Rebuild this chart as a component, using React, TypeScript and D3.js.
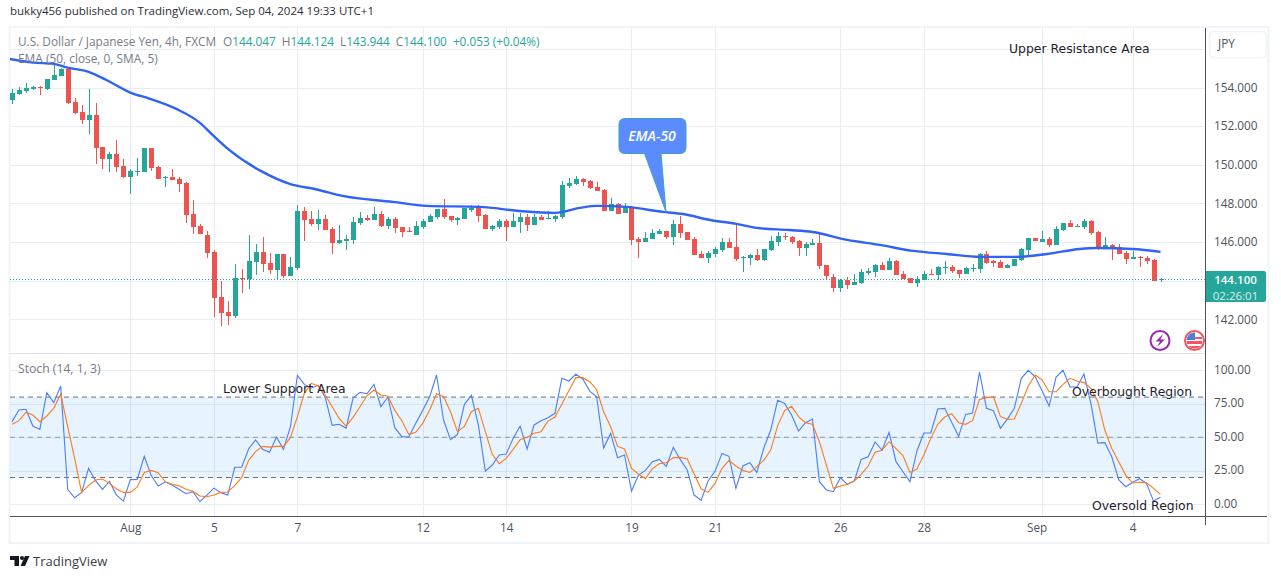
import React, { useEffect, useRef } from 'react'
import * as d3 from 'd3'

const opens = [
  153.36,153.67,153.83,153.93,154.05,153.93,154.39,154.60,154.97,153.26,
  152.74,152.32,152.58,150.93,150.30,150.56,149.94,149.37,149.63,149.63,
  150.87,149.89,149.33,149.37,149.27,149.06,147.45,146.83,146.37,145.49,
  143.15,142.38,142.17,144.14,144.09,144.97,145.49,144.92,144.55,145.38,
  144.24,144.66,147.61,147.20,146.94,147.20,146.68,145.95,146.06,146.11,
  146.99,147.25,147.14,147.45,146.83,147.20,146.78,146.57,146.37,146.78,
  147.04,147.30,147.71,147.35,147.14,147.20,147.66,147.82,147.40,146.68,
  146.78,147.09,146.78,147.04,147.30,146.88,147.30,147.20,147.20,147.30,
  148.90,149.01,149.27,149.16,148.85,148.70,147.61,147.97,147.51,147.82,
  146.16,146.00,146.16,146.42,146.57,146.26,146.94,146.52,146.16,145.38,
  145.18,145.38,145.59,146.00,145.75,145.18,145.18,145.33,145.07,145.59,
  146.00,146.31,146.26,146.06,145.69,145.85,145.95,144.81,144.19,143.62,
  144.03,143.78,143.88,144.40,144.45,144.81,144.55,145.02,144.35,144.14,
  143.88,144.03,144.35,144.30,144.66,144.71,144.55,144.35,144.61,144.61,
  145.38,145.02,144.97,144.66,144.76,145.07,145.59,146.21,146.00,146.16,
  145.85,146.62,146.99,146.78,146.78,147.09,146.52,145.75,145.85,145.75,
  145.43,145.12,145.23,145.18,145.07,144.047,
]
const highs = [
  153.91,154.02,154.22,154.08,154.08,154.45,155.21,155.00,155.00,153.46,
  153.09,153.93,153.20,150.93,150.67,151.29,150.30,149.79,150.37,150.87,
  150.87,149.94,149.42,149.79,149.37,149.11,148.18,146.94,146.57,145.59,
  143.98,142.95,144.86,144.61,146.37,145.90,146.26,145.43,145.38,145.38,
  145.23,147.92,147.82,147.61,147.66,147.40,146.78,146.88,146.37,147.30,
  147.56,147.40,147.82,147.61,147.30,147.30,146.78,146.78,147.09,147.20,
  147.45,147.71,148.23,147.35,147.30,147.77,147.92,147.92,147.45,146.88,
  147.20,147.20,147.51,147.51,147.45,147.45,147.40,147.61,147.40,149.16,
  149.32,149.42,149.32,149.22,149.11,148.75,148.28,148.02,148.02,147.87,
  146.26,146.52,146.68,146.68,146.57,147.14,147.35,146.52,146.26,145.54,
  145.54,145.75,146.21,146.21,146.88,145.28,145.38,145.64,145.64,146.31,
  146.52,146.47,146.31,146.11,146.00,146.16,146.52,144.81,144.35,144.09,
  144.19,144.35,144.61,144.66,144.86,144.97,145.18,145.07,144.50,144.14,
  144.24,144.50,144.61,144.76,145.02,144.81,144.55,144.71,144.86,145.43,
  145.54,145.07,145.07,144.86,145.12,145.69,146.21,146.21,146.57,146.26,
  146.83,146.99,147.14,146.94,147.20,147.14,146.57,146.26,145.90,145.90,
  145.54,145.54,145.28,145.28,145.12,144.124,
]
const lows = [
  153.15,153.62,153.71,153.87,153.61,153.87,154.39,154.60,153.15,152.63,
  152.12,151.60,150.04,149.79,149.63,149.63,149.32,148.51,149.44,149.63,
  149.68,149.27,148.85,149.22,148.59,146.99,146.42,146.42,145.17,142.12,
  141.65,141.70,142.07,143.36,143.57,144.29,144.45,144.35,144.03,144.14,
  144.24,144.55,146.06,146.83,146.63,146.63,145.38,145.90,145.59,145.90,
  146.88,147.09,147.14,146.78,146.68,146.47,146.26,146.52,146.37,146.68,
  147.04,147.20,147.20,147.04,146.88,147.20,147.56,147.04,146.68,146.57,
  146.68,146.06,146.78,146.47,146.57,146.88,147.14,147.20,147.04,147.20,
  148.80,148.96,148.90,148.75,148.65,147.61,147.61,147.45,147.51,145.85,
  145.18,146.00,146.16,146.42,146.16,145.85,146.21,146.11,145.33,145.18,
  144.92,145.23,145.49,145.69,145.02,144.45,144.81,145.02,145.02,145.54,
  145.80,146.11,145.90,145.28,145.28,145.85,144.61,144.09,143.41,143.41,
  143.57,143.78,143.83,144.29,144.19,144.55,144.55,144.29,144.09,143.88,
  143.67,144.03,144.30,144.03,144.35,144.40,144.14,144.35,144.45,144.40,
  144.86,144.71,144.66,144.66,144.76,145.02,145.33,146.06,146.00,145.75,
  145.85,146.57,146.78,146.78,146.68,146.37,145.59,145.75,145.07,145.38,
  144.86,145.12,144.71,144.86,143.98,143.944,
]
const closes = [
  153.71,153.86,153.98,154.03,154.02,154.45,154.64,154.97,153.19,152.69,
  152.32,152.58,150.89,150.30,150.56,149.89,149.37,149.68,149.68,150.87,
  149.84,149.27,149.37,149.22,149.01,147.40,146.78,146.42,145.43,143.10,
  142.33,142.17,144.14,144.07,145.02,145.49,144.86,144.55,145.38,144.24,
  144.71,147.61,147.14,146.94,147.20,146.63,145.95,146.11,146.16,147.04,
  147.25,147.14,147.45,146.83,147.20,146.73,146.52,146.52,146.83,147.09,
  147.35,147.71,147.30,147.14,147.25,147.77,147.77,147.35,146.68,146.83,
  147.09,146.78,147.09,147.30,146.88,147.30,147.14,147.25,147.35,148.95,
  149.06,149.27,149.11,148.80,148.65,147.61,147.97,147.45,147.82,146.11,
  146.00,146.21,146.47,146.57,146.26,146.94,146.47,146.11,145.33,145.18,
  145.43,145.64,146.00,145.69,145.12,145.23,145.33,145.07,145.64,146.06,
  146.31,146.29,146.00,145.69,145.90,145.95,144.76,144.24,143.62,144.03,
  143.78,143.93,144.45,144.50,144.81,144.55,145.02,144.29,144.09,143.88,
  144.09,144.35,144.30,144.71,144.71,144.50,144.35,144.66,144.66,145.38,
  144.92,144.92,144.66,144.81,145.12,145.64,146.21,146.06,146.16,145.85,
  146.68,146.99,146.78,146.83,147.09,146.47,145.75,145.85,145.69,145.38,
  145.12,145.23,145.18,145.02,143.98,144.10,
]

// EMA read at the bars where the line visibly bends
const emaBars = [
  -0.4,3,6,8,11,13.5,17,19.7,23.6,27,28.8,31.2,36,39.9,43.8,47.5,54.7,59.6,67.2,72.9,78,
  81.6,84,88.3,93.5,96.4,100.3,104.1,107,111.7,115,120,124.7,129.5,134.3,139.1,143.9,148.7,
  153.4,155.9,161,165,
]
const emaValues = [
  155.48,155.29,155.22,155.03,154.81,154.40,153.74,153.43,152.89,152.17,151.55,150.77,149.63,
  149.01,148.72,148.39,148.08,147.87,147.82,147.61,147.51,147.77,147.87,147.82,147.56,147.45,
  147.14,146.94,146.73,146.62,146.52,146.11,145.85,145.54,145.38,145.23,145.23,145.38,145.64,
  145.69,145.64,145.49,
]

const stochK = [
  61.7,70.4,70.9,58.4,55.9,83.3,75.8,88.3,11.2,4.9,
  8.9,26.8,17.6,11.2,17.1,6.9,2.4,18.4,18.6,35.8,
  21.4,13.6,16.6,14.4,11.2,7.9,9.4,1.9,6.9,12.1,
  8.7,6.9,27.6,27.6,41.5,48,41,38.8,50.2,41,
  57.9,96.2,89.5,86.8,88.8,79.8,58.9,59.7,56.9,79.3,
  83.5,82.5,89.5,72.8,80.1,57.2,50.5,50.2,60.4,70,
  80.3,96.5,62.9,48.2,52.2,74.6,81.3,59.2,24.8,29.3,
  36.8,37.5,49.2,58.4,41.3,59.2,62.4,64.6,67.9,94,
  92,97,93.5,84.5,80.3,42,52.9,34.8,36.8,9.9,
  21.8,25.3,31.8,33.5,28.3,42.5,33.5,25.6,6.9,2.9,
  17.4,24.6,38,35.8,11.9,28.6,31,23.8,41.8,55.4,
  77.6,75.3,66.6,54.7,60.9,63.6,16.9,10.7,9.4,19.9,
  14.9,17.4,33.5,35.5,46.5,40.3,53.7,31.8,24.3,16.9,
  39.8,53.2,53.2,71.1,71.6,61.2,50.7,67.1,68.1,98.7,
  71.6,69.9,56.7,63.6,71.6,94,100,95.2,84.5,73.3,
  95,100,87.5,87.5,97.2,75.3,45.7,46,35.5,18.4,
  13.1,16.4,19.1,15.4,2.4,5.2,
]
const stochD = [
  59.7,62.4,68.6,66.6,61.6,65.9,71.6,82.3,57.9,34.3,
  8.9,13.9,18.1,18.9,15.6,11.4,8.9,8.9,12.9,23.8,
  25.3,23.6,16.9,14.9,13.9,11.2,9.7,6.2,5.7,6.9,
  8.9,9.2,13.9,20.1,32.8,39.3,43.2,42.7,43.2,43.2,
  49.7,65.4,82.8,90.3,88.3,81.6,72.8,64.1,58.4,64.9,
  72.8,81,85.3,81.6,80.6,70.1,62.4,52.2,53.7,60.4,
  70.4,82.5,80.3,69.1,54.2,58.2,69.1,71.6,54.2,37.3,
  30.3,34.3,41,48.2,50,53,54.2,62.1,65.1,74.8,
  84.8,94.5,94.5,91.5,85.5,69.1,57.9,43.2,41.3,26.8,
  22.6,19.1,26.6,30.3,31,34.8,35,34,22.6,11.6,
  8.9,15.6,26.8,32.8,28.6,25.3,23.8,28.1,32.8,40.5,
  58.7,69.9,73.1,65.4,60.9,59.7,46.7,29.3,11.9,13.4,
  14.9,17.4,22.3,28.6,38.8,40.3,46.7,41.5,36.3,23.8,
  26.3,36.8,49.2,59.7,65.1,67.6,60.9,59.7,62.4,78.3,
  79.6,80.3,65.6,63.4,63.6,75.3,88.3,96.5,92.7,84,
  84,89.5,94,92,90.8,86.5,76.6,55.4,41.7,31.8,
  21.8,15.9,16.4,16.1,11.9,7.4,
]

const priceTicks = [154, 152, 150, 148, 146, 144, 142]
const priceGrid = [156, 154, 152, 150, 148, 146, 144, 142]
const stochTicks = [100, 75, 50, 25, 0]
const stochLevels = [80, 50, 20]
const timeGridBars = [17, 29, 41, 59, 71, 89, 101, 119, 131, 148, 161]
const timeLabelBars = [17, 29, 41, 59, 71, 89, 101, 119, 131, 147.2, 161]
const timeLabels = ['Aug', '5', '7', '12', '14', '19', '21', '26', '28', 'Sep', '4']

const GREEN = '#26a69a'
const RED = '#ef5350'
const GRID = '#e6edf3'
const AXIS = '#50535e'
const LEGEND = '#787b86'
const FONT = '"Open Sans", Roboto, sans-serif'
const NOTE_FONT = '"DejaVu Sans", sans-serif'

const App = () => {
  const svgRef = useRef<SVGSVGElement>(null)

  useEffect(() => {
    const svg = d3.select(svgRef.current)
    svg.selectAll('*').remove()

    const left = 10
    const right = 1205
    const x = d3.scaleLinear().domain([0, 165]).range([12, 1160.5])
    const y = d3.scaleLinear().domain([142, 154]).range([319.3, 87.5])
    const yS = d3.scaleLinear().domain([0, 100]).range([504.3, 370.3])

    svg.append('rect').attr('width', 1281).attr('height', 579).attr('fill', '#fff')

    svg.append('text').attr('x', 10).attr('y', 15).attr('font-size', 11.5)
      .attr('fill', '#2a2e39').text('bukky456 published on TradingView.com, Sep 04, 2024 19:33 UTC+1')

    const defs = svg.append('defs')
    defs.append('clipPath').attr('id', 'main-clip').append('rect')
      .attr('x', left).attr('y', 28).attr('width', right - left).attr('height', 325)
    defs.append('clipPath').attr('id', 'stoch-clip').append('rect')
      .attr('x', left).attr('y', 354).attr('width', right - left).attr('height', 162)

    // Outer frame
    svg.append('rect').attr('x', 9.5).attr('y', 27).attr('width', 1259).attr('height', 516)
      .attr('fill', 'none').attr('stroke', '#f0f3fa').attr('stroke-width', 2)

    // Grid
    const grid = svg.append('g').attr('shape-rendering', 'crispEdges').attr('stroke', GRID)
    priceGrid.forEach(p => {
      grid.append('line').attr('x1', left).attr('x2', right).attr('y1', Math.round(y(p))).attr('y2', Math.round(y(p)))
    })
    stochTicks.forEach(v => {
      grid.append('line').attr('x1', left).attr('x2', right).attr('y1', Math.round(yS(v))).attr('y2', Math.round(yS(v)))
    })
    timeGridBars.forEach(b => {
      grid.append('line').attr('x1', Math.round(x(b))).attr('x2', Math.round(x(b))).attr('y1', 28).attr('y2', 516)
    })

    // Candles
    const candles = svg.append('g').attr('clip-path', 'url(#main-clip)').attr('shape-rendering', 'crispEdges')
    closes.forEach((c, i) => {
      const o = opens[i]
      const cx = Math.round(x(i))
      const color = c >= o ? GREEN : RED
      const top = Math.round(y(Math.max(o, c)))
      const bottom = Math.round(y(Math.min(o, c)))
      candles.append('rect').attr('x', cx).attr('width', 1)
        .attr('y', Math.round(y(highs[i])))
        .attr('height', Math.max(1, Math.round(y(lows[i])) - Math.round(y(highs[i]))))
        .attr('fill', color)
      candles.append('rect').attr('x', cx - 2).attr('width', 5)
        .attr('y', top).attr('height', Math.max(1, bottom - top)).attr('fill', color)
    })

    // EMA 50
    const emaLine = d3.line<number>()
      .x((_, i) => x(emaBars[i]))
      .y(d => y(d))
      .curve(d3.curveMonotoneX)
    svg.append('path').attr('clip-path', 'url(#main-clip)').datum(emaValues)
      .attr('d', emaLine).attr('fill', 'none').attr('stroke', '#2f62f5').attr('stroke-width', 2.4)

    // Last price line
    svg.append('line').attr('x1', left).attr('x2', right)
      .attr('y1', Math.round(y(144.1)) + 0.5).attr('y2', Math.round(y(144.1)) + 0.5)
      .attr('stroke', GREEN).attr('stroke-dasharray', '1 2')

    // Callout
    svg.append('path')
      .attr('d', 'M625 118.5H680Q686 118.5 686 124.5V147.5Q686 153.5 680 153.5H661L666 212L644.5 153.5H625Q619 153.5 619 147.5V124.5Q619 118.5 625 118.5Z')
      .attr('fill', '#5b8cff').attr('stroke', '#3f9fc4').attr('stroke-width', 1)
    svg.append('text').attr('x', 652).attr('y', 140.5).attr('text-anchor', 'middle')
      .attr('font-size', 14).attr('font-weight', 600).attr('font-style', 'italic')
      .attr('fill', '#fff').attr('font-family', FONT).text('EMA-50')

    // Stochastic pane
    const stoch = svg.append('g').attr('clip-path', 'url(#stoch-clip)')
    stoch.append('rect').attr('x', left).attr('width', right - left)
      .attr('y', yS(80)).attr('height', yS(20) - yS(80)).attr('fill', '#2196f3').attr('fill-opacity', 0.11)
    stochLevels.forEach(v => {
      stoch.append('line').attr('x1', left).attr('x2', right).attr('y1', yS(v)).attr('y2', yS(v))
        .attr('stroke', v === 50 ? '#8f98a4' : '#6f737d').attr('stroke-dasharray', '5 4')
    })
    const stochLine = d3.line<number>().x((_, i) => x(i)).y(d => yS(d))
    stoch.append('path').datum(stochK).attr('d', stochLine).attr('fill', 'none')
      .attr('stroke', '#4a7dfa').attr('stroke-width', 1.1)
    stoch.append('path').datum(stochD).attr('d', stochLine).attr('fill', 'none')
      .attr('stroke', '#ff7a1a').attr('stroke-width', 1.1)

    // Pane separators and axis lines
    const rules = svg.append('g').attr('shape-rendering', 'crispEdges')
    rules.append('line').attr('x1', left).attr('x2', right).attr('y1', 353).attr('y2', 353).attr('stroke', '#e0e3eb')
    rules.append('line').attr('x1', left).attr('x2', 1267).attr('y1', 516).attr('y2', 516).attr('stroke', AXIS)
    rules.append('line').attr('x1', right).attr('x2', right).attr('y1', 28).attr('y2', 525).attr('stroke', AXIS)

    // Axes
    const styleAxis = (g: any) => {
      g.select('.domain').remove()
      g.selectAll('text').attr('fill', AXIS).attr('font-size', 11.8).attr('font-family', FONT)
    }
    svg.append('g').attr('transform', `translate(${right},0)`)
      .call(d3.axisRight(y).tickValues(priceTicks).tickFormat(d3.format('.3f') as any).tickSize(0).tickPadding(9))
      .call(styleAxis)
    svg.append('g').attr('transform', `translate(${right},-0.7)`)
      .call(d3.axisRight(yS).tickValues(stochTicks).tickFormat(d3.format('.2f') as any).tickSize(0).tickPadding(9))
      .call(styleAxis)
    svg.append('g').attr('transform', 'translate(0,516)')
      .call(d3.axisBottom(x).tickValues(timeLabelBars)
        .tickFormat((_, i) => timeLabels[i]).tickSize(0).tickPadding(8))
      .call(styleAxis)

    // Currency button
    svg.append('rect').attr('x', 1209.5).attr('y', 31.5).attr('width', 57).attr('height', 26).attr('rx', 4)
      .attr('fill', '#fff').attr('stroke', '#f0f3fa').attr('stroke-width', 1.5)
    svg.append('text').attr('x', 1218).attr('y', 48).attr('font-size', 11.8).attr('fill', AXIS)
      .attr('font-family', FONT).text('JPY')

    // Last price tag
    svg.append('path').attr('d', 'M1206 271H1264Q1266 271 1266 273V300Q1266 302 1264 302H1206Z').attr('fill', GREEN)
    svg.append('text').attr('x', 1235.5).attr('y', 283.5).attr('text-anchor', 'middle')
      .attr('font-size', 11.5).attr('font-weight', 600).attr('fill', '#fff').attr('font-family', FONT).text('144.100')
    svg.append('text').attr('x', 1235.5).attr('y', 299.5).attr('text-anchor', 'middle')
      .attr('font-size', 11.5).attr('fill', '#d6f0ed').attr('font-family', FONT).text('02:26:01')

    // Legend
    const legend = svg.append('text').attr('x', 18).attr('y', 46).attr('font-size', 11.8)
      .attr('font-family', FONT).attr('fill', LEGEND)
    legend.append('tspan').text('U.S. Dollar / Japanese Yen, 4h, FXCM')
    ;[['O', '144.047'], ['H', '144.124'], ['L', '143.944'], ['C', '144.100']].forEach(([k, v], i) => {
      legend.append('tspan').attr('dx', i === 0 ? 7 : 6).text(k)
      legend.append('tspan').attr('fill', GREEN).text(v)
    })
    legend.append('tspan').attr('fill', GREEN).attr('dx', 6).text('+0.053 (+0.04%)')
    svg.append('text').attr('x', 18).attr('y', 63).attr('font-size', 11.9).attr('font-family', FONT)
      .attr('fill', LEGEND).text('EMA (50, close, 0, SMA, 5)')
    svg.append('text').attr('x', 18).attr('y', 373).attr('font-size', 12.2).attr('font-family', FONT)
      .attr('fill', LEGEND).text('Stoch (14, 1, 3)')

    // Notes drawn on the chart
    const notes: [string, number, number][] = [
      ['Upper Resistance Area', 1009, 53],
      ['Lower Support Area', 223, 393],
      ['Overbought Region', 1072, 396],
      ['Oversold Region', 1092, 510],
    ]
    notes.forEach(([t, nx, ny]) => {
      svg.append('text').attr('x', nx).attr('y', ny).attr('font-size', 12.4)
        .attr('font-family', NOTE_FONT).attr('fill', '#1e222d').text(t)
    })

    // Event badges
    svg.append('circle').attr('cx', 1160).attr('cy', 340.5).attr('r', 9.5)
      .attr('fill', '#fff').attr('stroke', '#9c27b0').attr('stroke-width', 2)
    svg.append('path').attr('d', 'M1163 334L1155.5 341.5H1160L1157 347L1165 339.5H1160.5Z').attr('fill', '#9c27b0')
    const flag = svg.append('g')
    defs.append('clipPath').attr('id', 'flag-clip').append('circle').attr('cx', 1194.5).attr('cy', 340.5).attr('r', 8)
    flag.append('circle').attr('cx', 1194.5).attr('cy', 340.5).attr('r', 9.5).attr('fill', '#fff')
      .attr('stroke', '#f7525f').attr('stroke-width', 2)
    const flagInner = flag.append('g').attr('clip-path', 'url(#flag-clip)')
    flagInner.append('rect').attr('x', 1186).attr('y', 332).attr('width', 17).attr('height', 17).attr('fill', '#fff')
    flagInner.append('rect').attr('x', 1186).attr('y', 341).attr('width', 17).attr('height', 3).attr('fill', '#f7525f')
    flagInner.append('rect').attr('x', 1186).attr('y', 346).attr('width', 17).attr('height', 3).attr('fill', '#f7525f')
    flagInner.append('rect').attr('x', 1186).attr('y', 337).attr('width', 17).attr('height', 2).attr('fill', '#f7525f')
    flagInner.append('rect').attr('x', 1186).attr('y', 332).attr('width', 9).attr('height', 8).attr('fill', '#4a80d8')

    // Logo
    svg.append('path').attr('d', 'M10 556H19V566H14.5V560H10Z').attr('fill', '#131722')
    svg.append('circle').attr('cx', 22).attr('cy', 558).attr('r', 2).attr('fill', '#131722')
    svg.append('path').attr('d', 'M25 556H29.5L25 566H20.5Z').attr('fill', '#131722')
    svg.append('text').attr('x', 33).attr('y', 566).attr('font-size', 13).attr('font-family', FONT)
      .attr('fill', '#3a3e48').text('TradingView')
  }, [])

  return (
    <svg
      ref={svgRef}
      width={1281}
      height={579}
      style={{ position: 'absolute', left: 0, top: 0, fontFamily: '"Open Sans", sans-serif' }}
    />
  )
}

export default App
